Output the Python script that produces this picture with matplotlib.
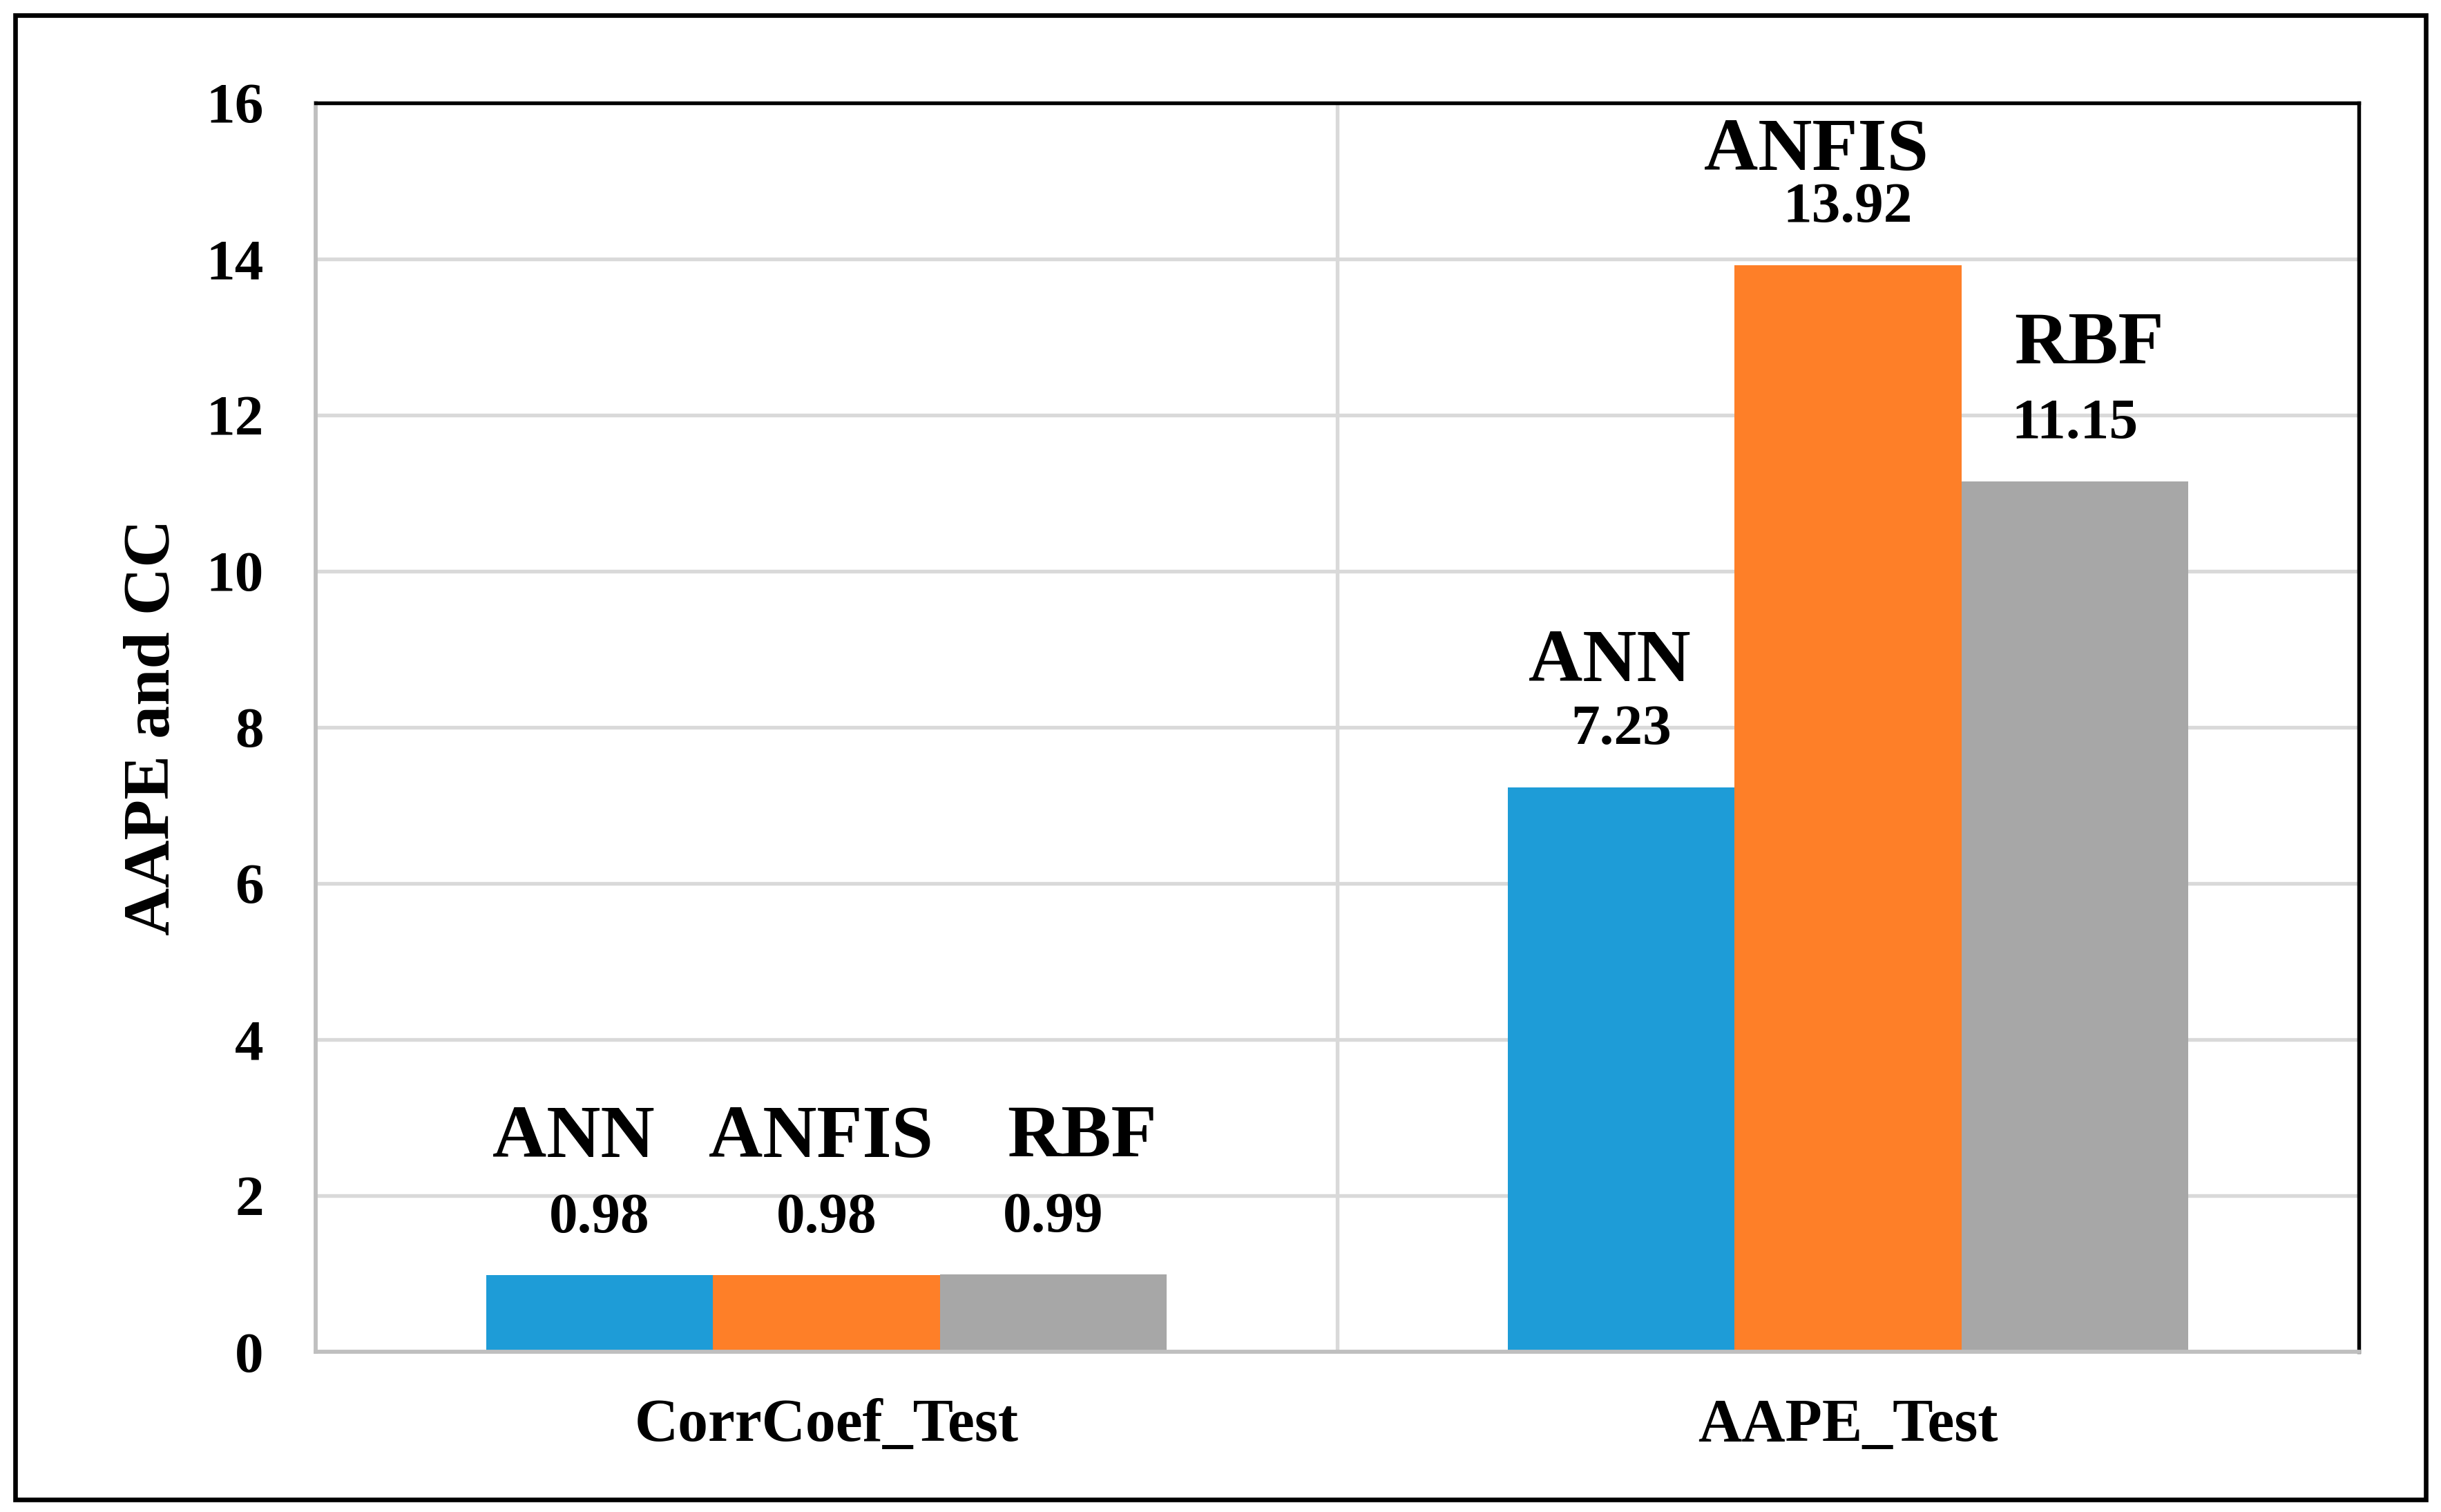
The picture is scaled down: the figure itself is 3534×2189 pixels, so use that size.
import matplotlib
matplotlib.use('Agg')
import matplotlib.pyplot as plt
from matplotlib.patches import Rectangle
import numpy as np

plt.rcParams['font.family'] = ['Liberation Serif', 'DejaVu Serif']
plt.rcParams['font.weight'] = 'bold'

# data
categories = ['CorrCoef_Test', 'AAPE_Test']
models = ['ANN', 'ANFIS', 'RBF']
ann_vals = [0.98, 7.23]
anfis_vals = [0.98, 13.92]
rbf_vals = [0.99, 11.15]
value_labels = [['0.98', '7.23'], ['0.98', '13.92'], ['0.99', '11.15']]
yticks = [0, 2, 4, 6, 8, 10, 12, 14, 16]

colors = ['#1E9CD7', '#FE7F28', '#A7A7A7']

# offsets (points) of the model name labels above each bar: [model][category]
name_dx = [[-9, -4], [-2, -11], [10, 5]]
name_dy = [[41, 37], [41, 33], [41, 41]]

fig = plt.figure(figsize=(3534 / 300, 2189 / 300), dpi=300)
ax = fig.add_axes([0.1293, 0.106, 0.9663 - 0.1293, 0.932 - 0.106])

x = np.arange(len(categories))
w = 0.222
series = [ann_vals, anfis_vals, rbf_vals]
for i, vals in enumerate(series):
    pos = x + (i - 1) * w
    ax.bar(pos, vals, w, color=colors[i], zorder=3)
    for j, v in enumerate(vals):
        # value label
        ax.annotate(value_labels[i][j], (pos[j], v), xytext=(0, 15),
                    textcoords='offset points', ha='center', va='baseline',
                    fontsize=20, fontweight='bold', zorder=4)
        # model name
        ax.annotate(models[i], (pos[j], v), xytext=(name_dx[i][j], name_dy[i][j]),
                    textcoords='offset points', ha='center', va='baseline',
                    fontsize=26, fontweight='bold', zorder=4)

ax.set_xlim(-0.5, 1.5)
ax.set_ylim(0, 16)
ax.set_yticks(yticks)
ax.set_xticks(x)
ax.set_xticklabels(categories)
ax.tick_params(axis='y', length=0, pad=18, labelsize=20)
ax.tick_params(axis='x', length=0, pad=16, labelsize=21)
ax.set_ylabel('AAPE and CC', fontsize=23, fontweight='bold', labelpad=8)

# gridlines + category separator
ax.yaxis.grid(True, color='#D9D9D9', linewidth=1.3, zorder=0)
ax.set_axisbelow(True)
ax.axvline(0.5, color='#D9D9D9', linewidth=1.3, zorder=0)

# spines: gray axis lines, black plot-area border
for s in ['left', 'bottom']:
    ax.spines[s].set_color('#BFBFBF')
    ax.spines[s].set_linewidth(1.4)
for s in ['top', 'right']:
    ax.spines[s].set_color('black')
    ax.spines[s].set_linewidth(1.3)
ax.spines['bottom'].set_zorder(5)

# outer chart border
fig.patches.append(Rectangle((22 / 3534, 18 / 2189), 1 - 44 / 3534, 1 - 40 / 2189,
                             transform=fig.transFigure, fill=False,
                             edgecolor='black', linewidth=1.6))

fig.savefig('out.png', dpi=300)
